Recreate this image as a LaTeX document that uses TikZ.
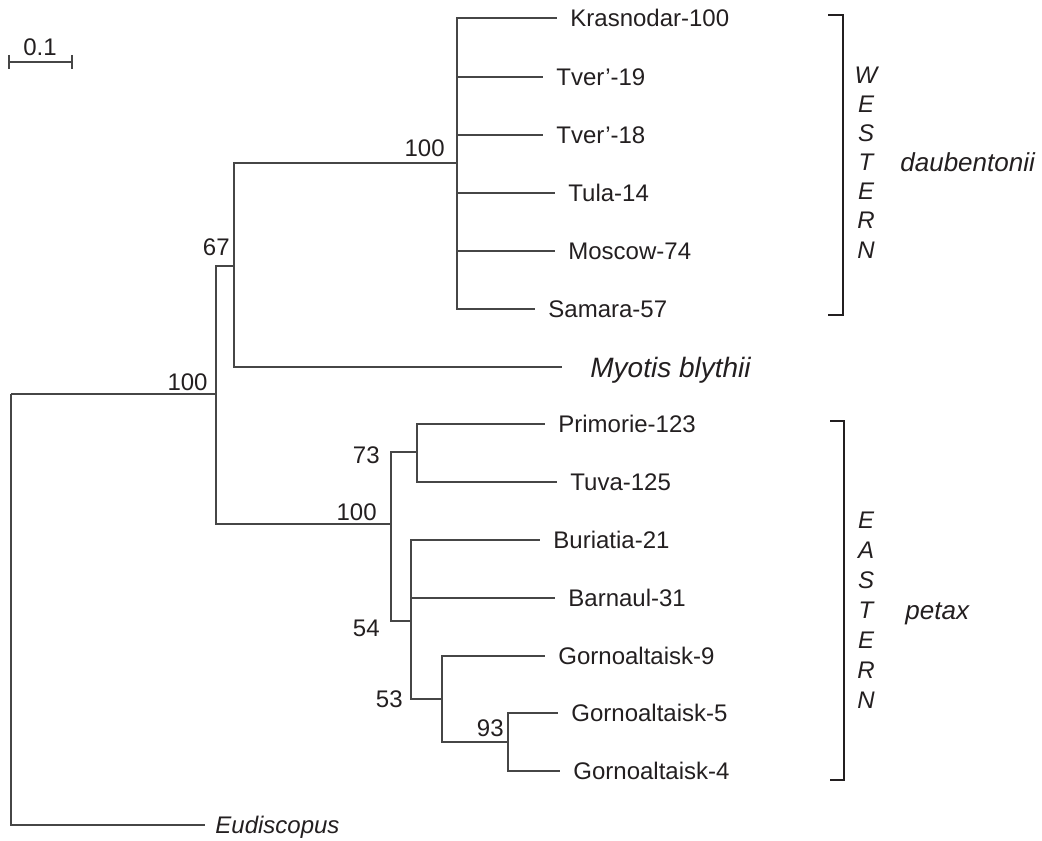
\documentclass[tikz,border=0pt]{standalone}
\usepackage{fontspec}
\setmainfont{Liberation Sans}
\usepackage{xcolor}
\usepackage{tikz}
\usetikzlibrary{calc}
\definecolor{treeline}{RGB}{70,70,70}
\definecolor{treetext}{RGB}{35,31,32}
\tikzset{
  br/.style   ={draw=treeline, line width=0.65pt},
  grp/.style  ={draw=treetext, line width=1pt},
  leaf/.style ={anchor=west, inner xsep=6.5pt, inner ysep=0pt, text height=8.6pt, text depth=0pt,
                text=treetext, font=\fontsize{12}{14}\selectfont},
  boot/.style ={anchor=east, inner sep=0pt, text height=8.6pt, text depth=0pt,
                text=treetext, font=\fontsize{12}{14}\selectfont},
  lett/.style ={inner sep=0pt, text height=8.6pt, text depth=0pt,
                text=treetext, font=\fontsize{12}{14}\selectfont\itshape},
  taxon/.style={anchor=west, inner sep=0pt, text height=9.3pt, text depth=0pt,
                text=treetext, font=\fontsize{13}{15}\selectfont\itshape},
}

\begin{document}
\begin{tikzpicture}[x=0.5pt,y=-0.5pt]
  \useasboundingbox (0,0) rectangle (1042,840);
  % scale bar
  \coordinate (sb1) at (9,62);
  \coordinate (sb2) at (72,62);
  \draw[br] (sb1) -- (sb2);
  \draw[br] ($(sb1)+(0,-7)$) -- ($(sb1)+(0,7)$);
  \draw[br] ($(sb2)+(0,-7)$) -- ($(sb2)+(0,7)$);
  \node[lett,font=\fontsize{12}{14}\selectfont] (sbl) at (40,47) {0.1};
  % internal nodes
  \coordinate (root) at (11,394);
  \coordinate (nA) at (216,394);
  \coordinate (nB) at (234,266);
  \coordinate (nW) at (457,163);
  \coordinate (nE) at (391,524);
  \coordinate (n73) at (417,452);
  \coordinate (n54) at (411,621);
  \coordinate (n53) at (442,699);
  \coordinate (n93) at (508,742);
  % leaves, western
  \node[leaf] (kras) at (557,18) {Krasnodar-100};
  \node[leaf] (tv19) at (543,77) {Tver'-19};
  \node[leaf] (tv18) at (543,135) {Tver'-18};
  \node[leaf] (tula) at (555,193) {Tula-14};
  \node[leaf] (mosc) at (555,251) {Moscow-74};
  \node[leaf] (sama) at (535,309) {Samara-57};
  \node[leaf,inner xsep=14pt,text height=10pt,font=\fontsize{14}{16}\selectfont\itshape] (blyth) at (562,367) {Myotis blythii};
  % leaves, eastern
  \node[leaf] (prim) at (545,424) {Primorie-123};
  \node[leaf] (tuva) at (557,482) {Tuva-125};
  \node[leaf] (buri) at (540,540) {Buriatia-21};
  \node[leaf] (barn) at (555,598) {Barnaul-31};
  \node[leaf] (gor9) at (545,656) {Gornoaltaisk-9};
  \node[leaf] (gor5) at (558,713) {Gornoaltaisk-5};
  \node[leaf] (gor4) at (560,771) {Gornoaltaisk-4};
  \node[leaf,inner xsep=5pt,font=\fontsize{12}{14}\selectfont\itshape] (eudi) at (205,825) {Eudiscopus};
  % branches
  \draw[br] (root) -- (nA);
  \draw[br] (root) |- (eudi.west);
  \draw[br] (nA) |- (nB);
  \draw[br] (nA) |- (nE);
  \draw[br] (nB) |- (nW);
  \draw[br] (nB) |- (blyth.west);
  \draw[br] (nW) |- (kras.west);
  \draw[br] (nW) |- (tv19.west);
  \draw[br] (nW) |- (tv18.west);
  \draw[br] (nW) |- (tula.west);
  \draw[br] (nW) |- (mosc.west);
  \draw[br] (nW) |- (sama.west);
  \draw[br] (nE) |- (n73);
  \draw[br] (nE) |- (n54);
  \draw[br] (n73) |- (prim.west);
  \draw[br] (n73) |- (tuva.west);
  \draw[br] (n54) |- (buri.west);
  \draw[br] (n54) |- (barn.west);
  \draw[br] (n54) |- (n53);
  \draw[br] (n53) |- (gor9.west);
  \draw[br] (n53) |- (n93);
  \draw[br] (n93) |- (gor5.west);
  \draw[br] (n93) |- (gor4.west);
  % bootstrap values
  \node[boot] (bA) at (208,382) {100};
  \node[boot] (bB) at (230,247) {67};
  \node[boot] (bW) at (445,148) {100};
  \node[boot] (bE) at (377,512) {100};
  \node[boot] (b73) at (380,455) {73};
  \node[boot] (b54) at (380,628) {54};
  \node[boot] (b53) at (403,699) {53};
  \node[boot] (b93) at (504,728) {93};
  % groups
  \draw[grp] (828,15) -- (843,15) -- (843,315) -- (828,315);
  \draw[grp] (830,421) -- (844,421) -- (844,780) -- (830,780);
  \node[lett] (w1) at (866,75) {W};
  \node[lett] (w2) at (866,104) {E};
  \node[lett] (w3) at (866,133) {S};
  \node[lett] (w4) at (866,162) {T};
  \node[lett] (w5) at (866,191) {E};
  \node[lett] (w6) at (866,220) {R};
  \node[lett] (w7) at (866,250) {N};
  \node[taxon] (daub) at (900,162) {daubentonii};
  \node[lett] (e1) at (866,520) {E};
  \node[lett] (e2) at (866,550) {A};
  \node[lett] (e3) at (866,580) {S};
  \node[lett] (e4) at (866,610) {T};
  \node[lett] (e5) at (866,640) {E};
  \node[lett] (e6) at (866,670) {R};
  \node[lett] (e7) at (866,700) {N};
  \node[taxon] (petx) at (905,610) {petax};
\end{tikzpicture}
\end{document}
